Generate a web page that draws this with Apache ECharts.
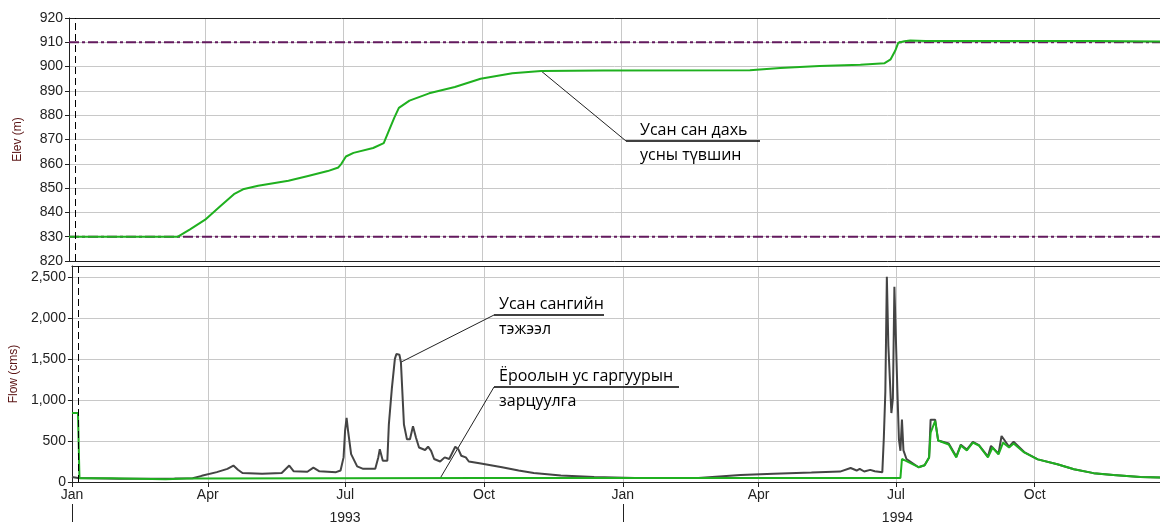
<!DOCTYPE html>
<html>
<head>
<meta charset="utf-8">
<script src="https://cdn.jsdelivr.net/npm/echarts@6/dist/echarts.min.js"></script>
<style>
html, body { margin: 0; padding: 0; background: #fff; }
#main { width: 1160px; height: 525px; }
</style>
</head>
<body>
<div id="main"></div>
<script>
// x range and tick positions
const xStart = '1993-01-01';
const xEnd = '1994-12-23';
const monthTicks = ['1993-01-01', '1993-04-01', '1993-07-01', '1993-10-01',
  '1994-01-01', '1994-04-01', '1994-07-01', '1994-10-01'];
const monthNames = ['Jan', 'Feb', 'Mar', 'Apr', 'May', 'Jun', 'Jul', 'Aug', 'Sep', 'Oct', 'Nov', 'Dec'];
const yearTicks = ['1993-01-01', '1994-01-01'];
const yearLabelAt = ['1993-07-01', '1994-07-02'];
const markerDate = '1993-01-05';

// reference levels (m)
const topLevel = 910;
const deadLevel = 830;

// reservoir elevation (m)
const elevation = [
  ['1993-01-01', 830], ['1993-03-14', 830], ['1993-03-22', 833], ['1993-04-01', 837],
  ['1993-04-10', 842], ['1993-04-20', 847.5], ['1993-04-26', 849.5], ['1993-05-06', 851],
  ['1993-05-26', 853], ['1993-06-08', 855], ['1993-06-21', 857], ['1993-06-28', 858.5],
  ['1993-06-30', 860], ['1993-07-03', 863], ['1993-07-08', 864.5], ['1993-07-21', 866.5],
  ['1993-07-28', 868.5], ['1993-07-31', 873], ['1993-08-04', 879], ['1993-08-07', 883],
  ['1993-08-14', 886], ['1993-08-27', 889], ['1993-09-13', 891.6], ['1993-09-30', 895],
  ['1993-10-21', 897.3], ['1993-11-09', 898.2], ['1993-12-20', 898.4], ['1994-03-27', 898.5],
  ['1994-04-16', 899.4], ['1994-05-12', 900.2], ['1994-06-08', 900.8], ['1994-06-24', 901.4],
  ['1994-06-28', 903], ['1994-07-01', 906.5], ['1994-07-03', 909.8], ['1994-07-07', 910.4],
  ['1994-07-11', 910.7], ['1994-07-21', 910.5], ['1994-11-10', 910.5], ['1994-12-23', 910.3]
];

// reservoir inflow (cms)
const inflow = [
  ['1993-01-01', 60], ['1993-01-05', 50], ['1993-02-01', 40], ['1993-03-10', 42],
  ['1993-03-22', 45], ['1993-03-28', 75], ['1993-04-07', 120], ['1993-04-14', 160],
  ['1993-04-18', 200], ['1993-04-21', 150], ['1993-04-24', 110], ['1993-05-07', 100],
  ['1993-05-20', 110], ['1993-05-25', 200], ['1993-05-28', 130], ['1993-06-06', 125],
  ['1993-06-10', 175], ['1993-06-14', 130], ['1993-06-25', 120], ['1993-06-28', 140],
  ['1993-06-30', 300], ['1993-07-01', 625], ['1993-07-02', 780], ['1993-07-03', 620],
  ['1993-07-05', 340], ['1993-07-09', 190], ['1993-07-13', 160], ['1993-07-21', 160],
  ['1993-07-23', 300], ['1993-07-24', 400], ['1993-07-26', 260], ['1993-07-29', 260],
  ['1993-07-30', 700], ['1993-08-01', 1140], ['1993-08-03', 1500], ['1993-08-04', 1560],
  ['1993-08-06', 1550], ['1993-08-07', 1460], ['1993-08-09', 700], ['1993-08-11', 520],
  ['1993-08-13', 520], ['1993-08-15', 680], ['1993-08-17', 540], ['1993-08-19', 420],
  ['1993-08-23', 390], ['1993-08-25', 430], ['1993-08-27', 380], ['1993-08-29', 280],
  ['1993-09-02', 250], ['1993-09-05', 300], ['1993-09-08', 280], ['1993-09-12', 430],
  ['1993-09-14', 400], ['1993-09-16', 320], ['1993-09-19', 300], ['1993-09-21', 250],
  ['1993-09-29', 225], ['1993-10-13', 180], ['1993-10-24', 140], ['1993-11-03', 110],
  ['1993-11-21', 80], ['1993-12-13', 60], ['1994-01-09', 50], ['1994-02-20', 48],
  ['1994-03-20', 84], ['1994-04-11', 100], ['1994-05-06', 115], ['1994-05-25', 127],
  ['1994-06-01', 170], ['1994-06-05', 140], ['1994-06-07', 160], ['1994-06-10', 128],
  ['1994-06-14', 148], ['1994-06-17', 132], ['1994-06-22', 120], ['1994-06-23', 540],
  ['1994-06-24', 1100], ['1994-06-25', 2500], ['1994-06-26', 1660], ['1994-06-27', 1660],
  ['1994-06-28', 840], ['1994-06-29', 1020], ['1994-06-30', 2380], ['1994-07-01', 2380],
  ['1994-07-02', 1100], ['1994-07-03', 520], ['1994-07-04', 380], ['1994-07-05', 760],
  ['1994-07-06', 385], ['1994-07-08', 280], ['1994-07-16', 180], ['1994-07-20', 204],
  ['1994-07-23', 300], ['1994-07-24', 760], ['1994-07-27', 760], ['1994-07-29', 505],
  ['1994-08-05', 470], ['1994-08-10', 310], ['1994-08-13', 455], ['1994-08-17', 395],
  ['1994-08-21', 490], ['1994-08-25', 450], ['1994-08-31', 310], ['1994-09-02', 440],
  ['1994-09-07', 345], ['1994-09-09', 560], ['1994-09-14', 430], ['1994-09-17', 490],
  ['1994-09-24', 365], ['1994-10-03', 276], ['1994-10-16', 216], ['1994-10-27', 156],
  ['1994-11-09', 108], ['1994-11-22', 84], ['1994-12-10', 60], ['1994-12-23', 55]
];

// bottom outlet release (cms)
const outflow = [
  ['1993-01-01', 840], ['1993-01-05', 840], ['1993-01-06', 45], ['1993-01-27', 45],
  ['1993-01-28', 35], ['1993-03-04', 35], ['1993-03-05', 42], ['1993-03-18', 42],
  ['1993-03-19', 48], ['1993-10-01', 50], ['1994-07-04', 50], ['1994-07-05', 280],
  ['1994-07-07', 264], ['1994-07-16', 180], ['1994-07-20', 204], ['1994-07-23', 300],
  ['1994-07-24', 600], ['1994-07-27', 745], ['1994-07-29', 505], ['1994-08-05', 457],
  ['1994-08-10', 300], ['1994-08-13', 445], ['1994-08-17', 385], ['1994-08-21', 480],
  ['1994-08-25', 445], ['1994-08-31', 300], ['1994-09-03', 420], ['1994-09-07', 337],
  ['1994-09-10', 480], ['1994-09-14', 420], ['1994-09-17', 470], ['1994-09-24', 360],
  ['1994-10-03', 276], ['1994-10-16', 216], ['1994-10-27', 156], ['1994-11-09', 108],
  ['1994-11-22', 84], ['1994-12-10', 60], ['1994-12-23', 55]
];

// annotation anchors on the curves
const noteElev = ['1993-11-09', 898.2];
const noteInflow = ['1993-08-07', 1460];
const noteOutflow = ['1993-09-02', 45];

// dates -> timestamps for the value-type x axes
const toTime = function (d) { return echarts.time.parse(d).getTime(); };
const asTime = function (rows) { return rows.map(function (r) { return [toTime(r[0]), r[1]]; }); };
const monthTickValues = monthTicks.map(toTime);

const gridColor = '#c8c8c8';
const frameColor = '#222';
const axisFont = { fontFamily: 'Liberation Sans', fontSize: 14, color: '#222' };
const nameStyle = { fontFamily: 'Liberation Sans', fontSize: 12, color: '#5a1414' };

function monthAxis(gridIndex, showLabels) {
  return {
    type: 'value',
    gridIndex: gridIndex,
    min: toTime(xStart),
    max: toTime(xEnd),
    axisLine: { show: true, onZero: false, lineStyle: { color: frameColor, width: 1 } },
    axisTick: { show: showLabels, length: 5, customValues: monthTickValues, lineStyle: { color: frameColor } },
    axisLabel: {
      show: showLabels,
      customValues: monthTickValues,
      margin: 6,
      fontFamily: axisFont.fontFamily,
      fontSize: axisFont.fontSize,
      color: axisFont.color,
      formatter: function (v) { return monthNames[new Date(v).getMonth()]; }
    },
    splitLine: { show: true, lineStyle: { color: gridColor, width: 1 } }
  };
}

// plain line along the top edge of a plot
function topEdge(gridIndex) {
  return {
    type: 'value',
    gridIndex: gridIndex,
    position: 'top',
    min: toTime(xStart),
    max: toTime(xEnd),
    axisLine: { show: true, onZero: false, lineStyle: { color: frameColor, width: 1 } },
    axisTick: { show: false },
    axisLabel: { show: false },
    splitLine: { show: false }
  };
}

const dashMarker = {
  silent: true,
  symbol: 'none',
  label: { show: false },
  lineStyle: { color: '#000', type: [7, 4], width: 1 },
  data: [{ xAxis: toTime(markerDate) }]
};

const option = {
  animation: false,
  backgroundColor: '#fff',
  grid: [
    { left: 69, right: 0, top: 18, height: 243 },
    { left: 69, right: 0, top: 266, height: 219 }
  ],
  xAxis: [
    monthAxis(0, false),
    monthAxis(1, true),
    {
      type: 'value',
      gridIndex: 1,
      min: toTime(xStart),
      max: toTime(xEnd),
      position: 'bottom',
      offset: 22,
      axisLine: { show: false, onZero: false },
      axisTick: { show: true, length: 18, customValues: yearTicks.map(toTime), lineStyle: { color: frameColor } },
      axisLabel: {
        show: true,
        customValues: yearLabelAt.map(toTime),
        margin: 7,
        fontFamily: axisFont.fontFamily,
        fontSize: axisFont.fontSize,
        color: axisFont.color,
        formatter: function (v) { return String(new Date(v).getFullYear()); }
      },
      splitLine: { show: false }
    },
    topEdge(0),
    topEdge(1)
  ],
  yAxis: [
    {
      type: 'value',
      gridIndex: 0,
      min: 820,
      max: 920,
      interval: 10,
      name: 'Elev (m)',
      nameLocation: 'middle',
      nameGap: 45,
      nameTextStyle: nameStyle,
      axisLine: { show: true, lineStyle: { color: frameColor } },
      axisTick: { show: true, length: 4, lineStyle: { color: frameColor } },
      axisLabel: { margin: 6, fontFamily: axisFont.fontFamily, fontSize: axisFont.fontSize, color: axisFont.color },
      splitLine: { show: true, lineStyle: { color: gridColor, width: 1 } }
    },
    {
      type: 'value',
      gridIndex: 1,
      min: 0,
      max: 2632,
      interval: 500,
      name: 'Flow (cms)',
      nameLocation: 'middle',
      nameGap: 45,
      nameTextStyle: nameStyle,
      axisLine: { show: true, lineStyle: { color: frameColor } },
      axisTick: { show: true, length: 4, lineStyle: { color: frameColor } },
      axisLabel: { margin: 6, showMaxLabel: false, fontFamily: axisFont.fontFamily, fontSize: axisFont.fontSize, color: axisFont.color },
      splitLine: { show: true, lineStyle: { color: gridColor, width: 1 } }
    }
  ],
  series: [
    {
      type: 'line', xAxisIndex: 0, yAxisIndex: 0, symbol: 'none', silent: true,
      data: asTime([[xStart, topLevel], [xEnd, topLevel]]),
      lineStyle: { color: '#631a5e', width: 2, type: [10, 3, 3, 3] },
      markLine: dashMarker
    },
    {
      type: 'line', xAxisIndex: 0, yAxisIndex: 0, symbol: 'none', silent: true,
      data: asTime([[xStart, deadLevel], [xEnd, deadLevel]]),
      lineStyle: { color: '#631a5e', width: 2, type: [10, 3, 3, 3] }
    },
    {
      type: 'line', xAxisIndex: 0, yAxisIndex: 0, symbol: 'none', silent: true,
      data: asTime(elevation),
      lineStyle: { color: '#1fb01f', width: 2 }
    },
    {
      type: 'line', xAxisIndex: 1, yAxisIndex: 1, symbol: 'none', silent: true,
      data: asTime(inflow),
      lineStyle: { color: '#444', width: 2 }
    },
    {
      type: 'line', xAxisIndex: 1, yAxisIndex: 1, symbol: 'none', silent: true,
      data: asTime(outflow),
      lineStyle: { color: '#1fb01f', width: 2 },
      markLine: dashMarker
    }
  ]
};

const chart = echarts.init(document.getElementById('main'));
chart.setOption(option);

// callout labels with leader lines
function anchor(gridIndex, pt) {
  return chart.convertToPixel({ gridIndex: gridIndex }, [toTime(pt[0]), pt[1]]);
}
const noteFont = '16px "Open Sans"';
function note(from, lx, ly, lineEnd, textX, line1, line2) {
  return [
    { type: 'line', silent: true, shape: { x1: from[0], y1: from[1], x2: lx, y2: ly }, style: { stroke: '#222', lineWidth: 1 } },
    { type: 'line', silent: true, shape: { x1: lx, y1: ly, x2: lineEnd, y2: ly }, style: { stroke: '#000', lineWidth: 1.5 } },
    { type: 'text', silent: true, style: { text: line1, x: textX, y: ly - 11, font: noteFont, fill: '#000', verticalAlign: 'middle' } },
    { type: 'text', silent: true, style: { text: line2, x: textX, y: ly + 14, font: noteFont, fill: '#000', verticalAlign: 'middle' } }
  ];
}
const a1 = anchor(0, noteElev);
const a2 = anchor(1, noteInflow);
const a3 = anchor(1, noteOutflow);
chart.setOption({
  graphic: [].concat(
    note(a1, 626, 141, 760, 640, 'Усан сан дахь', 'усны түвшин'),
    note(a2, 494, 315, 604, 499, 'Усан сангийн', 'тэжээл'),
    note(a3, 494, 387, 679, 499, 'Ёроолын ус гаргуурын', 'зарцуулга')
  )
});
</script>
</body>
</html>
